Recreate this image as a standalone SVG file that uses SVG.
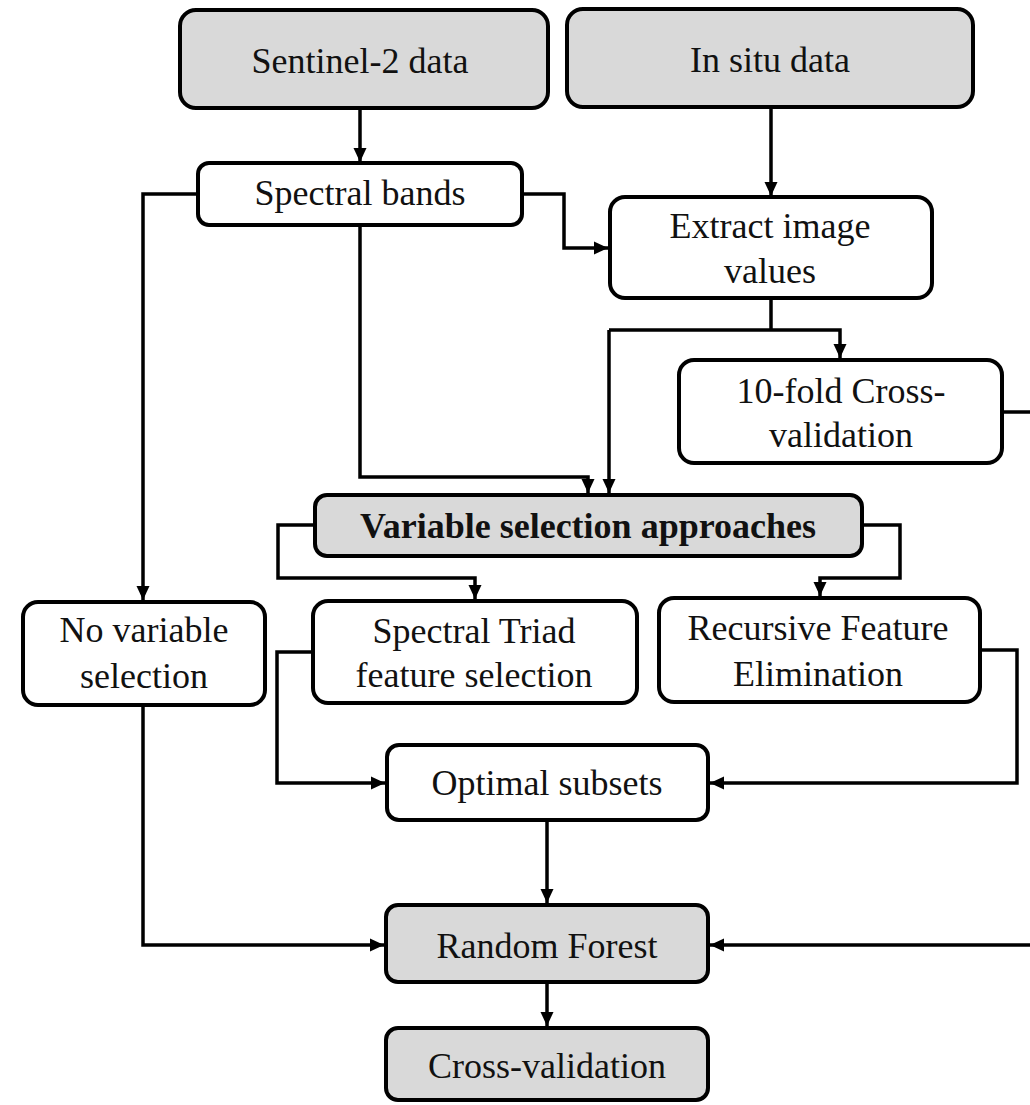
<svg xmlns="http://www.w3.org/2000/svg" width="1030" height="1105" viewBox="0 0 1030 1105">
<style>
.box{fill:#ffffff;stroke:#000;stroke-width:4}
.gray{fill:#d9d9d9;stroke:#000;stroke-width:4}
.t{font-family:"Liberation Serif","Times New Roman",serif;font-size:36px;fill:#111;text-anchor:middle}
.b{font-weight:bold}
.c{fill:none;stroke:#000;stroke-width:3.5;stroke-linejoin:miter}
.a{marker-end:url(#ah)}
</style>
<defs>
<marker id="ah" viewBox="0 0 14 14" refX="14" refY="7" markerWidth="14" markerHeight="14" markerUnits="userSpaceOnUse" orient="auto">
<path d="M0,0.5 L14,7 L0,13.5 z" fill="#000"/>
</marker>
</defs>
<rect width="1030" height="1105" fill="#fff"/>
<g id="connectors">
<path class="c a" d="M360,108 V162"/>
<path class="c a" d="M771,107 V196"/>
<path class="c a" d="M522,194 H564 V248 H608"/>
<path class="c" d="M198,194 H143 V560"/>
<path class="c a" d="M143,560 V600"/>
<path class="c a" d="M360,225 V477 H588 V493"/>
<path class="c" d="M771,298 V330"/>
<path class="c a" d="M609,330 H840 V358"/>
<path class="c a" d="M609,330 V493"/>
<path class="c a" d="M315,525 H278 V578 H475 V599"/>
<path class="c a" d="M862,525 H900 V578 H820 V596"/>
<path class="c a" d="M313,652 H277 V783 H385"/>
<path class="c a" d="M980,650 H1017 V783 H710"/>
<path class="c" d="M1002,412 H1032 V945"/>
<path class="c a" d="M1032,945 H710"/>
<path class="c a" d="M143,705 V945 H384"/>
<path class="c a" d="M547,820 V903"/>
<path class="c a" d="M547,982 V1026"/>
</g>
<g id="sentinel">
<rect class="gray" x="180" y="10" width="368" height="98" rx="16"/>
<text class="t" x="360" y="73">Sentinel-2 data</text>
</g>
<g id="insitu">
<rect class="gray" x="567" y="9" width="406" height="98" rx="16"/>
<text class="t" x="770" y="72">In situ data</text>
</g>
<g id="spectral-bands">
<rect class="box" x="198" y="163" width="324" height="62" rx="11"/>
<text class="t" x="360" y="205">Spectral bands</text>
</g>
<g id="extract">
<rect class="box" x="610" y="197" width="322" height="101" rx="15"/>
<text class="t" x="770" y="238">Extract image</text>
<text class="t" x="770" y="283">values</text>
</g>
<g id="tenfold">
<rect class="box" x="679" y="360" width="323" height="103" rx="15"/>
<text class="t" x="841" y="403">10-fold Cross-</text>
<text class="t" x="841" y="447">validation</text>
</g>
<g id="variable-selection">
<rect class="gray" x="315" y="495" width="547" height="61" rx="12"/>
<text class="t b" x="588" y="538">Variable selection approaches</text>
</g>
<g id="no-variable">
<rect class="box" x="23" y="602" width="242" height="103" rx="15"/>
<text class="t" x="144" y="642">No variable</text>
<text class="t" x="144" y="688">selection</text>
</g>
<g id="spectral-triad">
<rect class="box" x="313" y="601" width="324" height="102" rx="15"/>
<text class="t" x="474" y="643">Spectral Triad</text>
<text class="t" x="474" y="687">feature selection</text>
</g>
<g id="rfe">
<rect class="box" x="659" y="598" width="321" height="104" rx="15"/>
<text class="t" x="818" y="640">Recursive Feature</text>
<text class="t" x="818" y="686">Elimination</text>
</g>
<g id="optimal">
<rect class="box" x="387" y="745" width="321" height="75" rx="12"/>
<text class="t" x="547" y="795">Optimal subsets</text>
</g>
<g id="random-forest">
<rect class="gray" x="386" y="905" width="322" height="77" rx="12"/>
<text class="t" x="547" y="958">Random Forest</text>
</g>
<g id="cross-validation">
<rect class="gray" x="386" y="1028" width="322" height="72" rx="12"/>
<text class="t" x="547" y="1078">Cross-validation</text>
</g>
</svg>
